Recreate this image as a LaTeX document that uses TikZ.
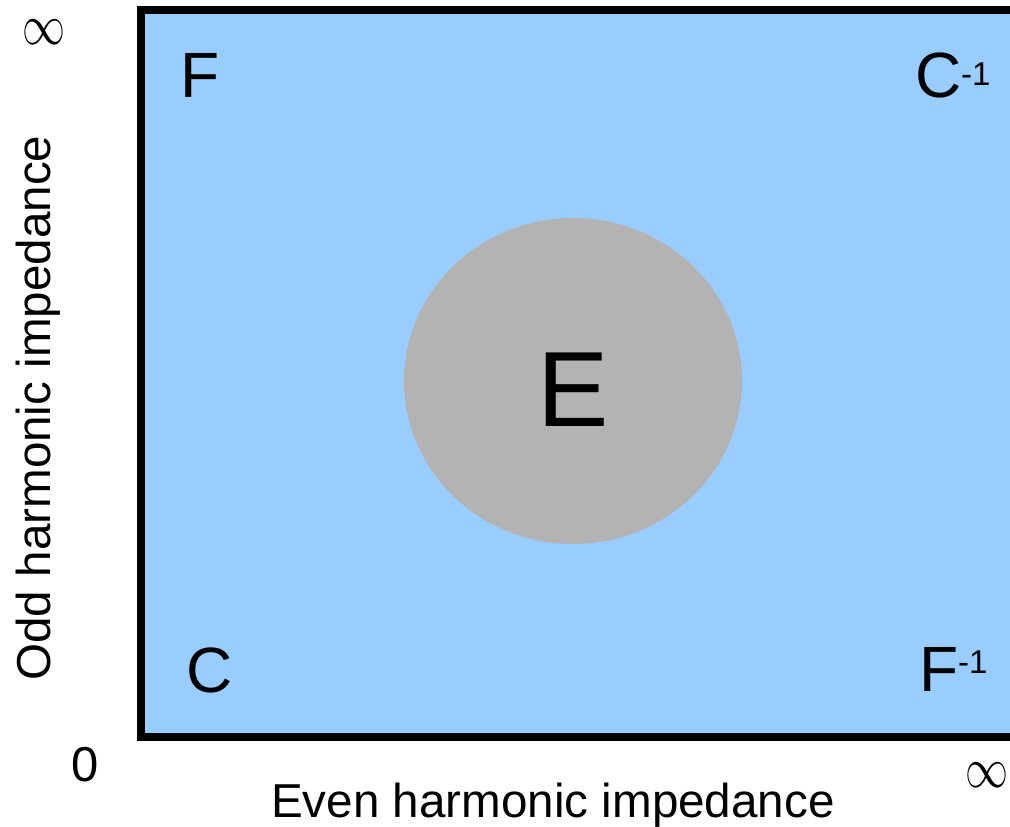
\documentclass[tikz,border=0pt]{standalone}
\usepackage{graphicx}
\usepackage{fontspec}
\setmainfont{Liberation Sans}
\definecolor{regionblue}{HTML}{99CCFF}
\definecolor{regiongray}{HTML}{B3B3B3}
\newcommand{\fsz}[1]{\fontsize{#1}{#1}\selectfont}
\newcommand{\biginf}{\scalebox{4.3}[5.7]{$\infty$}}
\begin{document}
\begin{tikzpicture}[x=1pt,y=-1pt,
  lbl/.style={inner sep=0pt,outer sep=0pt,text=black},
  corner/.style={lbl,font=\fsz{64},anchor=base west},
  infmark/.style={lbl},
  axislbl/.style={lbl,font=\fsz{47.6},anchor=base}]
\clip (0,0) rectangle (1010,827);
\fill[white] (0,0) rectangle (1010,827);
% plane
\draw[line width=8pt,fill=regionblue] (141,10) rectangle (1016,737);
% region E
\fill[regiongray] (573,381) ellipse [x radius=169, y radius=163];
\node[lbl,font=\fsz{107},anchor=base] (E) at (573,426) {E};
% corner labels
\node[corner] (F) at (180,97) {F};
\node[corner] (Cinv) at (915,97) {C\raisebox{12pt}{\fsz{33}-1}};
\node[corner] (C) at (186,692) {C};
\node[corner] (Finv) at (919,691) {F\raisebox{18pt}{\fsz{33}-1}};
% axis marks
\node[lbl,font=\fsz{49},anchor=base west] (zero) at (71,781) {0};
\node[infmark] (inftop) at (43.5,32) {\biginf};
\node[infmark] (infright) at (987,775.5) {\biginf};
% axis titles
\node[axislbl] (xlab) at (553,817) {Even harmonic impedance};
\node[axislbl,rotate=90] (ylab) at (50,408) {Odd harmonic impedance};
\end{tikzpicture}
\end{document}
